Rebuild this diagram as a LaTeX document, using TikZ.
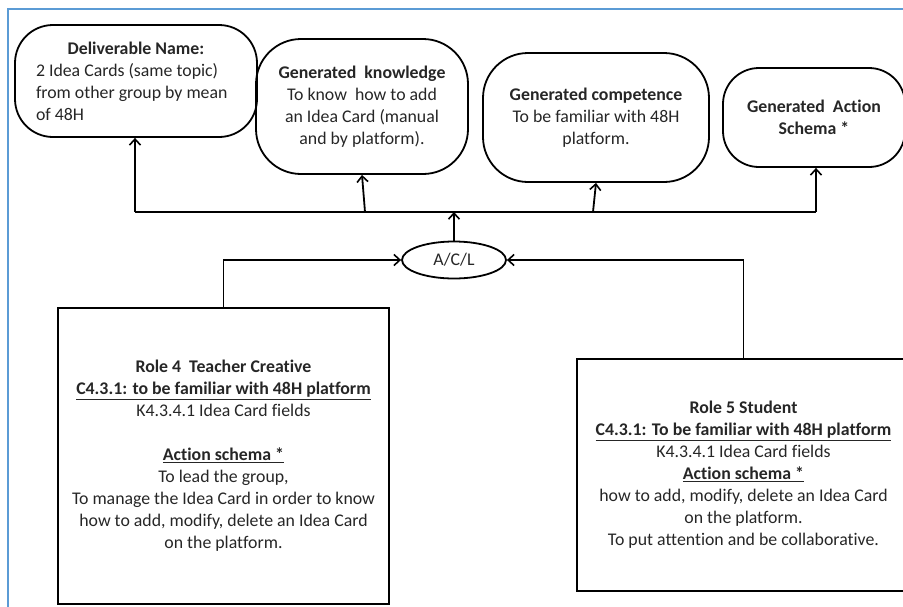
\documentclass[tikz,border=0pt]{standalone}
\usepackage{fontspec}
\setmainfont{Carlito}[Ligatures={NoCommon}]
\usetikzlibrary{arrows.meta,shapes.geometric}
\definecolor{frameblue}{HTML}{5B9BD5}
\definecolor{txt}{HTML}{262626}
\tikzset{
  rbox/.style={draw=black,line width=1.8pt,rounded corners=#1,align=center,inner sep=0pt,text=txt,font=\fontsize{17.8}{22}\selectfont},
  sbox/.style={draw=black,line width=1.8pt,align=center,inner sep=0pt,text=txt,font=\fontsize{17.8}{22}\selectfont},
  conn/.style={line width=1.8pt,black},
  arr/.style={conn,-{Straight Barb[length=6pt,width=11pt,line width=1.6pt]}},
}
\begin{document}
\begin{tikzpicture}[x=1pt,y=-1pt]
\useasboundingbox (0,0) rectangle (903,606);
\clip (0,0) rectangle (903,606);
\draw[frameblue,line width=2pt] (8,620) -- (8,9) -- (920,9);
% top boxes
\node[rbox=38pt,minimum width=242pt,minimum height=112pt,text width=200pt,align=flush left] (d1) at (136,81)
  {\makebox[200pt][c]{\textbf{Deliverable Name:}}\\2 Idea Cards (same topic)\\from other group by mean\\of 48H};
\node[rbox=45pt,minimum width=212pt,minimum height=135pt] (d2) at (362,106.5)
  {\textbf{Generated\ \ knowledge}\\To know\ \ how to add\\an Idea Card (manual\\and by platform).};
\node[rbox=45pt,minimum width=226pt,minimum height=129pt] (d3) at (596,117.5)
  {\textbf{Generated competence}\\To be familiar with 48H\\platform.};
\node[rbox=36pt,minimum width=182pt,minimum height=99pt] (d4) at (814,117.5)
  {\textbf{Generated\ \ Action}\\\textbf{Schema *}};
% bus
\coordinate (busL) at (135,212);
\coordinate (busR) at (816,212);
\coordinate (b2) at (365,212);
\coordinate (b3) at (593,212);
\draw[conn] (busL) -- (busR);
\draw[arr] (busL) -- (busL |- d1.south);
\draw[arr] (b2) -- (d2.south);
\draw[arr] (b3) -- (d3.south);
\draw[arr] (busR) -- (busR |- d4.south);
% A/C/L
\node[draw=black,line width=1.8pt,ellipse,minimum width=104pt,minimum height=37pt,inner sep=0pt,text=txt,font=\fontsize{17.8}{22}\selectfont] (acl) at (454,260) {A/C/L};
\draw[arr] (acl.north) -- (acl.north |- busL);
% roles
\node[sbox,minimum width=331pt,minimum height=296pt] (r4) at (223.5,456)
  {\textbf{Role 4\ \ Teacher Creative}\\\textbf{\underline{C4.3.1: to be familiar with 48H platform}}\\K4.3.4.1 Idea Card fields\\[22pt]\textbf{\underline{Action schema *}}\\To lead the group,\\To manage the Idea Card in order to know\\how to add, modify, delete an Idea Card\\on the platform.};
\node[sbox,minimum width=333pt,minimum height=232pt] (r5) at (743.5,475)
  {\textbf{Role 5 Student}\\\textbf{\underline{C4.3.1: To be familiar with 48H platform}}\\K4.3.4.1 Idea Card fields\\\textbf{\underline{Action schema *}}\\how to add, modify, delete an Idea Card\\on the platform.\\To put attention and be collaborative.};
\draw[arr] (r4.north) |- (acl.west);
\draw[arr] (r5.north) |- (acl.east);
\end{tikzpicture}
\end{document}
